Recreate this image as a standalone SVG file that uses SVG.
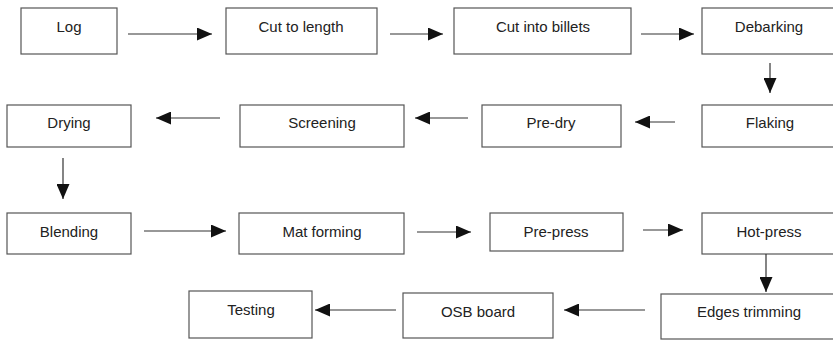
<svg xmlns="http://www.w3.org/2000/svg" width="833" height="340" viewBox="0 0 833 340">
<style>
.box{fill:#fff;stroke:#555;stroke-width:1.2}
.lbl{font-family:"Liberation Sans",Arial,sans-serif;font-size:15px;fill:#222;text-anchor:middle}
.con{stroke:#333;stroke-width:1.2;fill:none;marker-end:url(#ah)}
</style>
<defs>
<marker id="ah" markerUnits="userSpaceOnUse" markerWidth="15" markerHeight="13" refX="15" refY="6.5" orient="auto">
<path d="M0,0 L15,6.5 L0,13 z" fill="#111"/>
</marker>
</defs>
<rect width="833" height="340" fill="#fff"/>
<g id="log"><rect class="box" x="21" y="8" width="96" height="46"/><text class="lbl" x="69" y="32">Log</text></g>
<g id="cut-to-length"><rect class="box" x="226" y="8" width="151" height="46"/><text class="lbl" x="301" y="32">Cut to length</text></g>
<g id="cut-into-billets"><rect class="box" x="454" y="8" width="177" height="46"/><text class="lbl" x="543" y="32">Cut into billets</text></g>
<g id="debarking"><rect class="box" x="702" y="8" width="140" height="46"/><text class="lbl" x="769" y="32">Debarking</text></g>
<g id="flaking"><rect class="box" x="702" y="105" width="140" height="42"/><text class="lbl" x="770" y="128">Flaking</text></g>
<g id="pre-dry"><rect class="box" x="482" y="105" width="139" height="42"/><text class="lbl" x="551" y="128">Pre-dry</text></g>
<g id="screening"><rect class="box" x="240" y="105" width="164" height="42"/><text class="lbl" x="322" y="128">Screening</text></g>
<g id="drying"><rect class="box" x="7" y="105" width="124" height="42"/><text class="lbl" x="69" y="128">Drying</text></g>
<g id="blending"><rect class="box" x="7" y="213" width="124" height="41"/><text class="lbl" x="69" y="237">Blending</text></g>
<g id="mat-forming"><rect class="box" x="239" y="213" width="165" height="41"/><text class="lbl" x="322" y="237">Mat forming</text></g>
<g id="pre-press"><rect class="box" x="490" y="213" width="133" height="38"/><text class="lbl" x="556" y="237">Pre-press</text></g>
<g id="hot-press"><rect class="box" x="702" y="213" width="140" height="41"/><text class="lbl" x="769" y="237">Hot-press</text></g>
<g id="edges-trimming"><rect class="box" x="661" y="294" width="180" height="45"/><text class="lbl" x="749" y="317">Edges trimming</text></g>
<g id="osb-board"><rect class="box" x="403" y="293" width="150" height="45"/><text class="lbl" x="478" y="317">OSB board</text></g>
<g id="testing"><rect class="box" x="189" y="291" width="123" height="47"/><text class="lbl" x="251" y="315">Testing</text></g>
<g id="connectors">
<line class="con" x1="128" y1="34" x2="212" y2="34"/>
<line class="con" x1="390" y1="34" x2="443" y2="34"/>
<line class="con" x1="641" y1="34" x2="694" y2="34"/>
<line class="con" x1="770" y1="63" x2="770" y2="93"/>
<line class="con" x1="675" y1="122" x2="635" y2="122"/>
<line class="con" x1="468" y1="118" x2="415" y2="118"/>
<line class="con" x1="220" y1="118" x2="156" y2="118"/>
<line class="con" x1="63" y1="158" x2="63" y2="199"/>
<line class="con" x1="144" y1="231" x2="226" y2="231"/>
<line class="con" x1="417" y1="232" x2="471" y2="232"/>
<line class="con" x1="643" y1="230" x2="683" y2="230"/>
<line class="con" x1="766" y1="254" x2="766" y2="292"/>
<line class="con" x1="645" y1="310" x2="564" y2="310"/>
<line class="con" x1="396" y1="310" x2="315" y2="310"/>
</g>
</svg>
